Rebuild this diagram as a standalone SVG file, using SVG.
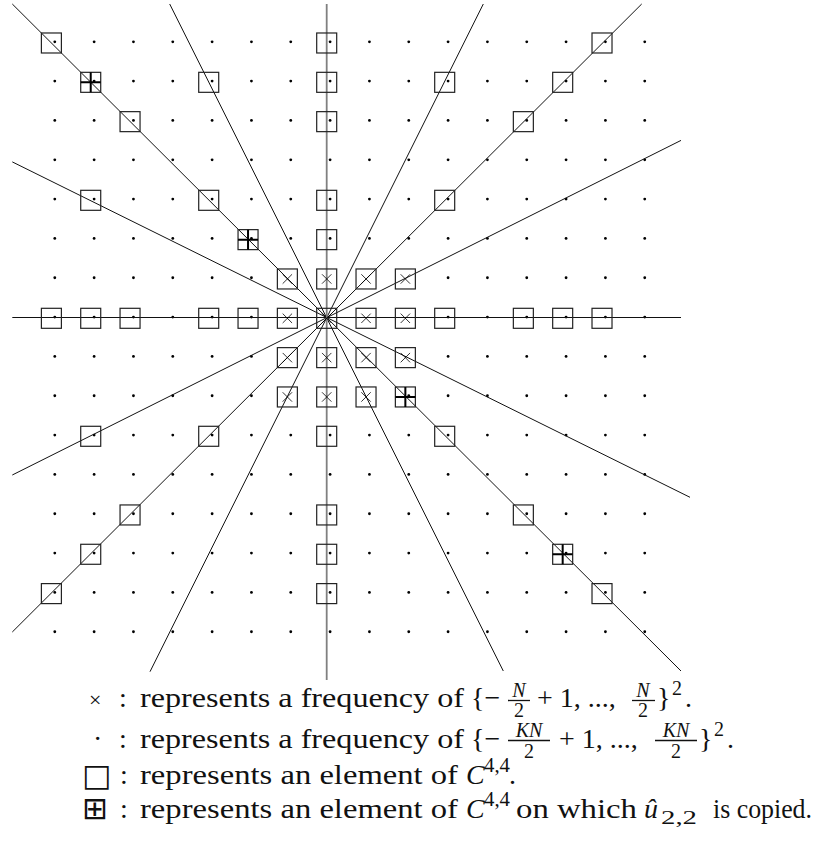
<svg xmlns="http://www.w3.org/2000/svg" xmlns:xlink="http://www.w3.org/1999/xlink" width="817" height="841" viewBox="0 0 817 841">
<style>
.ln{stroke:#111;stroke-width:1;fill:none}
.vl{stroke:#808080;stroke-width:1.8;fill:none}
.sq{fill:none;stroke:#222;stroke-width:1.2}
.wh{fill:#fff;stroke:none}
.xm{stroke:#000;stroke-width:0.8;fill:none}
.pl{stroke:#000;stroke-width:2;fill:none}
.t{font-family:"Liberation Serif","DejaVu Serif",serif;font-size:28px;fill:#111}
.s{font-size:20px}
.i{font-style:italic}
.sym{font-family:"DejaVu Sans",sans-serif;font-size:31px}
.bar{stroke:#111;stroke-width:1.3}
</style>
<defs>
<g id="row">
<circle cx="54.79" cy="0" r="1.4"/><circle cx="94.12" cy="0" r="1.4"/><circle cx="133.45" cy="0" r="1.4"/><circle cx="172.78" cy="0" r="1.4"/><circle cx="212.11" cy="0" r="1.4"/><circle cx="251.44" cy="0" r="1.4"/><circle cx="290.77" cy="0" r="1.4"/><circle cx="330.10" cy="0" r="1.4"/><circle cx="369.43" cy="0" r="1.4"/><circle cx="408.76" cy="0" r="1.4"/><circle cx="448.09" cy="0" r="1.4"/><circle cx="487.42" cy="0" r="1.4"/><circle cx="526.75" cy="0" r="1.4"/><circle cx="566.08" cy="0" r="1.4"/><circle cx="605.41" cy="0" r="1.4"/><circle cx="644.74" cy="0" r="1.4"/>
</g>
<rect id="sq" class="sq" x="-10" y="-10" width="20" height="20"/>
<rect id="wsq" class="wh" x="-10" y="-10" width="20" height="20"/>
<g id="xsq"><rect class="sq" x="-10" y="-10" width="20" height="20"/><path class="xm" d="M-4.7,-4.7L4.7,4.7M4.7,-4.7L-4.7,4.7"/></g>
<g id="psq"><rect class="sq" x="-10" y="-10" width="20" height="20"/><path class="pl" d="M0,-10V10M-10,0H10"/></g>
</defs>
<rect width="817" height="841" fill="#fff"/>
<g id="dots">
<use xlink:href="#row" y="41.79"/><use xlink:href="#row" y="81.12"/><use xlink:href="#row" y="120.45"/><use xlink:href="#row" y="159.78"/><use xlink:href="#row" y="199.11"/><use xlink:href="#row" y="238.44"/><use xlink:href="#row" y="277.77"/><use xlink:href="#row" y="317.10"/><use xlink:href="#row" y="356.43"/><use xlink:href="#row" y="395.76"/><use xlink:href="#row" y="435.09"/><use xlink:href="#row" y="474.42"/><use xlink:href="#row" y="513.75"/><use xlink:href="#row" y="553.08"/><use xlink:href="#row" y="592.41"/><use xlink:href="#row" y="631.74"/>
</g>
<g id="low-freq-mask">
<use xlink:href="#wsq" x="287.37" y="278.97"/><use xlink:href="#wsq" x="326.7" y="278.97"/><use xlink:href="#wsq" x="366.03" y="278.97"/><use xlink:href="#wsq" x="405.36" y="278.97"/>
<use xlink:href="#wsq" x="287.37" y="318.3"/><use xlink:href="#wsq" x="326.7" y="318.3"/><use xlink:href="#wsq" x="366.03" y="318.3"/><use xlink:href="#wsq" x="405.36" y="318.3"/>
<use xlink:href="#wsq" x="287.37" y="357.63"/><use xlink:href="#wsq" x="326.7" y="357.63"/><use xlink:href="#wsq" x="366.03" y="357.63"/><use xlink:href="#wsq" x="405.36" y="357.63"/>
<use xlink:href="#wsq" x="287.37" y="396.96"/><use xlink:href="#wsq" x="326.7" y="396.96"/><use xlink:href="#wsq" x="366.03" y="396.96"/>
</g>
<g id="connectors">
<path class="ln" d="M12.3,317.5H681"/>
<path class="ln" d="M12.3,4L681,671"/>
<path class="ln" d="M169.7,4L503.3,671"/>
<path class="ln" d="M12.3,161.9L690,497.3"/>
<path class="ln" d="M12.3,632L641.7,4"/>
<path class="ln" d="M150,671.7L483.3,4"/>
<path class="ln" d="M12.3,475L681,140.4"/>
<path class="vl" d="M326.7,4V680"/>
</g>
<g id="squares">
<use xlink:href="#sq" x="51.39" y="42.99"/><use xlink:href="#sq" x="326.7" y="42.99"/><use xlink:href="#sq" x="602.01" y="42.99"/>
<use xlink:href="#sq" x="208.71" y="82.32"/><use xlink:href="#sq" x="326.7" y="82.32"/><use xlink:href="#sq" x="444.69" y="82.32"/><use xlink:href="#sq" x="562.68" y="82.32"/>
<use xlink:href="#sq" x="130.05" y="121.65"/><use xlink:href="#sq" x="326.7" y="121.65"/><use xlink:href="#sq" x="523.35" y="121.65"/>
<use xlink:href="#sq" x="90.72" y="200.31"/><use xlink:href="#sq" x="208.71" y="200.31"/><use xlink:href="#sq" x="326.7" y="200.31"/><use xlink:href="#sq" x="444.69" y="200.31"/>
<use xlink:href="#sq" x="326.7" y="239.64"/>
<use xlink:href="#sq" x="51.39" y="318.3"/><use xlink:href="#sq" x="90.72" y="318.3"/><use xlink:href="#sq" x="130.05" y="318.3"/><use xlink:href="#sq" x="208.71" y="318.3"/><use xlink:href="#sq" x="248.04" y="318.3"/><use xlink:href="#sq" x="444.69" y="318.3"/><use xlink:href="#sq" x="523.35" y="318.3"/><use xlink:href="#sq" x="562.68" y="318.3"/><use xlink:href="#sq" x="602.01" y="318.3"/>
<use xlink:href="#sq" x="90.72" y="436.29"/><use xlink:href="#sq" x="208.71" y="436.29"/><use xlink:href="#sq" x="326.7" y="436.29"/><use xlink:href="#sq" x="444.69" y="436.29"/>
<use xlink:href="#sq" x="130.05" y="514.95"/><use xlink:href="#sq" x="326.7" y="514.95"/><use xlink:href="#sq" x="523.35" y="514.95"/>
<use xlink:href="#sq" x="90.72" y="554.28"/><use xlink:href="#sq" x="326.7" y="554.28"/>
<use xlink:href="#sq" x="51.39" y="593.61"/><use xlink:href="#sq" x="326.7" y="593.61"/><use xlink:href="#sq" x="602.01" y="593.61"/>
</g>
<g id="low-freq-squares">
<use xlink:href="#xsq" x="287.37" y="278.97"/><use xlink:href="#xsq" x="326.7" y="278.97"/><use xlink:href="#xsq" x="366.03" y="278.97"/><use xlink:href="#xsq" x="405.36" y="278.97"/>
<use xlink:href="#xsq" x="287.37" y="318.3"/><use xlink:href="#xsq" x="326.7" y="318.3"/><use xlink:href="#xsq" x="366.03" y="318.3"/><use xlink:href="#xsq" x="405.36" y="318.3"/>
<use xlink:href="#xsq" x="287.37" y="357.63"/><use xlink:href="#xsq" x="326.7" y="357.63"/><use xlink:href="#xsq" x="366.03" y="357.63"/><use xlink:href="#xsq" x="405.36" y="357.63"/>
<use xlink:href="#xsq" x="287.37" y="396.96"/><use xlink:href="#xsq" x="326.7" y="396.96"/><use xlink:href="#xsq" x="366.03" y="396.96"/>
</g>
<g id="copied-squares">
<use xlink:href="#psq" x="90.72" y="82.32"/><use xlink:href="#psq" x="248.04" y="239.64"/><use xlink:href="#psq" x="405.36" y="396.96"/><use xlink:href="#psq" x="562.68" y="554.28"/>
</g>
<g id="legend-x" class="t">
<text x="89" y="707" style="font-size:22px">×</text>
<text x="119" y="707">:</text>
<text x="140" y="707" textLength="324" lengthAdjust="spacingAndGlyphs">represents a frequency of</text>
<text x="471" y="707">{−</text>
<text x="519" y="697" class="s i" text-anchor="middle">N</text>
<line class="bar" x1="508" y1="700.5" x2="530" y2="700.5"/>
<text x="519" y="717" class="s" text-anchor="middle">2</text>
<text x="537" y="707">+ 1, ...,</text>
<text x="643" y="697" class="s i" text-anchor="middle">N</text>
<line class="bar" x1="632" y1="700.5" x2="655" y2="700.5"/>
<text x="643" y="717" class="s" text-anchor="middle">2</text>
<text x="657" y="707">}</text>
<text x="672" y="695" class="s">2</text>
<text x="685" y="707">.</text>
</g>
<g id="legend-dot" class="t">
<text x="93" y="748">·</text>
<text x="119" y="748">:</text>
<text x="140" y="748" textLength="324" lengthAdjust="spacingAndGlyphs">represents a frequency of</text>
<text x="471" y="748">{−</text>
<text x="529" y="737" class="s i" text-anchor="middle">KN</text>
<line class="bar" x1="508" y1="740.5" x2="550" y2="740.5"/>
<text x="529" y="758" class="s" text-anchor="middle">2</text>
<text x="559" y="748">+ 1, ...,</text>
<text x="676" y="737" class="s i" text-anchor="middle">KN</text>
<line class="bar" x1="655" y1="740.5" x2="697" y2="740.5"/>
<text x="676" y="758" class="s" text-anchor="middle">2</text>
<text x="699" y="748">}</text>
<text x="714" y="736" class="s">2</text>
<text x="727" y="748">.</text>
</g>
<g id="legend-square" class="t">
<text x="82" y="786" class="sym">□</text>
<text x="120" y="784">:</text>
<text x="140" y="784" textLength="318" lengthAdjust="spacingAndGlyphs">represents an element of</text>
<text x="466" y="784" class="i">C</text>
<text x="484" y="772" class="s" textLength="26" lengthAdjust="spacingAndGlyphs">4,4</text>
<text x="509" y="784">.</text>
</g>
<g id="legend-plus" class="t">
<text x="82" y="819" class="sym">⊞</text>
<text x="120" y="818">:</text>
<text x="140" y="818" textLength="318" lengthAdjust="spacingAndGlyphs">represents an element of</text>
<text x="466" y="818" class="i">C</text>
<text x="484" y="806" class="s" textLength="26" lengthAdjust="spacingAndGlyphs">4,4</text>
<text x="516" y="818" textLength="121" lengthAdjust="spacingAndGlyphs">on which</text>
<text x="644" y="818" class="i">û</text>
<text x="661" y="824" style="font-size:18px" textLength="36" lengthAdjust="spacingAndGlyphs">2,2</text>
<text x="713" y="818" style="font-size:27px" textLength="99" lengthAdjust="spacingAndGlyphs">is copied.</text>
</g>
</svg>
